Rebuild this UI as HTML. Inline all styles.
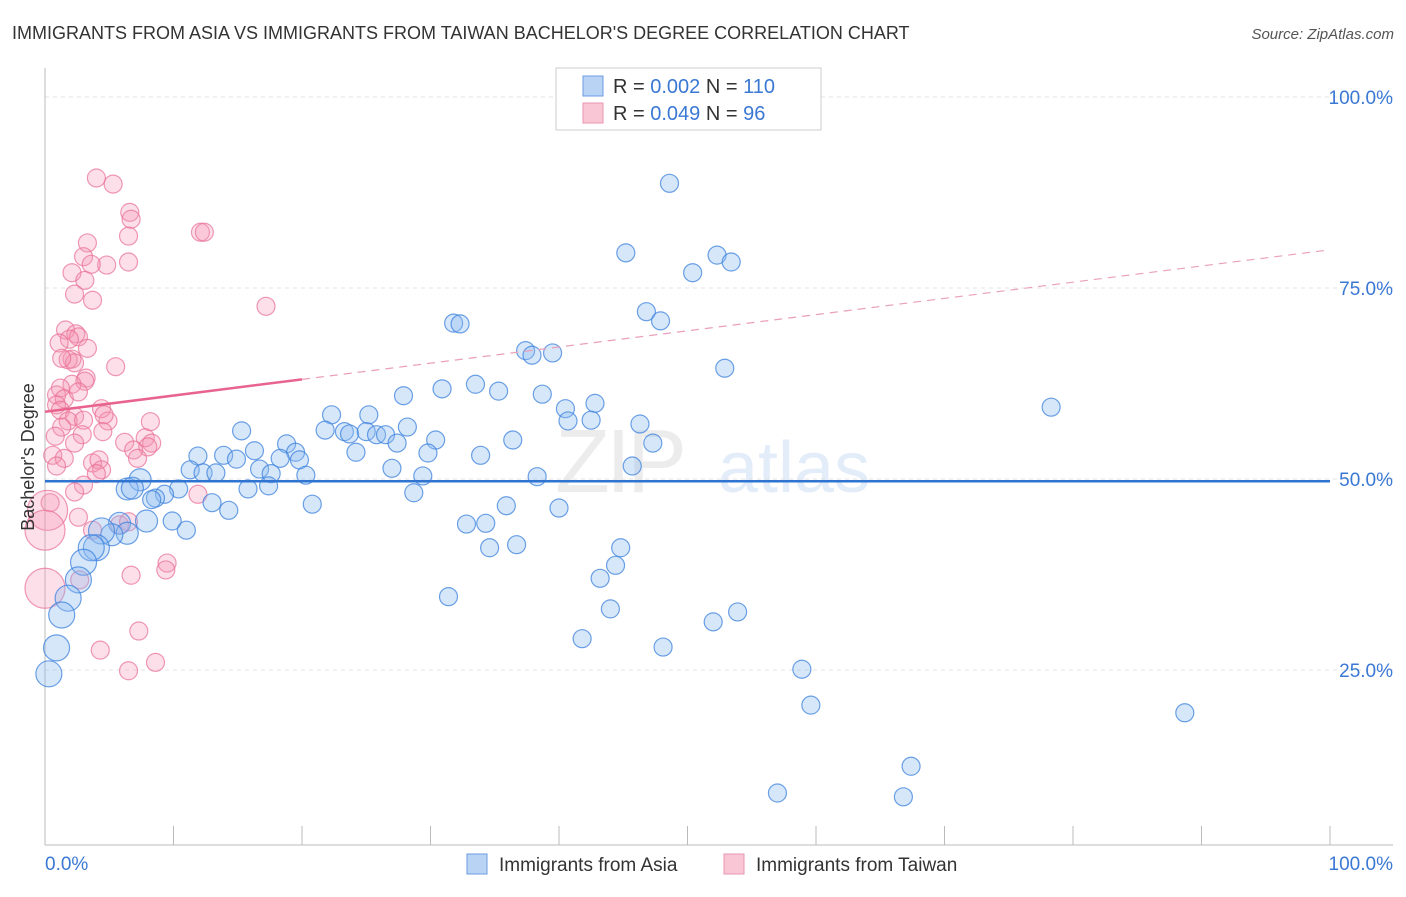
<!DOCTYPE html>
<html><head><meta charset="utf-8"><style>
body{margin:0;background:#fff;font-family:"Liberation Sans",sans-serif;}
svg text{font-family:"Liberation Sans",sans-serif;}
</style></head><body>
<svg id="chart" width="1406" height="892" viewBox="0 0 1406 892" xmlns="http://www.w3.org/2000/svg">
<text x="12" y="39" font-size="18" fill="#333">IMMIGRANTS FROM ASIA VS IMMIGRANTS FROM TAIWAN BACHELOR'S DEGREE CORRELATION CHART</text>
<text x="1394" y="39" font-size="15" fill="#555" text-anchor="end" font-style="italic">Source: ZipAtlas.com</text>
<g opacity="0.18">
<text x="555" y="492" font-size="90" fill="#999" font-family="Liberation Serif" letter-spacing="-4">ZIP</text>
<text x="718" y="492" font-size="72" fill="#6a9be0">atlas</text>
</g>
<g id="grid"></g>
<g id="axes"></g>
<g id="marks"></g>
<g id="trends"></g>
<g>
<rect x="556" y="68" width="265" height="62" fill="#fff" stroke="#ccc"/>
<rect x="583" y="76" width="20" height="20" fill="#b9d3f5" stroke="#6a9be0"/>
<rect x="583" y="103" width="20" height="20" fill="#f9c6d6" stroke="#e895b0"/>
<text x="613" y="93" font-size="20" fill="#333">R = <tspan fill="#3a78d4">0.002</tspan>   N = <tspan fill="#3a78d4">110</tspan></text>
<text x="613" y="120" font-size="20" fill="#333">R = <tspan fill="#3a78d4">0.049</tspan>   N =  <tspan fill="#3a78d4"> 96</tspan></text>
</g>
<g>
<rect x="467" y="854" width="20" height="20" fill="#b9d3f5" stroke="#6a9be0"/>
<text x="499" y="871" font-size="19" fill="#333">Immigrants from Asia</text>
<rect x="724" y="854" width="20" height="20" fill="#f9c6d6" stroke="#e895b0"/>
<text x="756" y="871" font-size="19" fill="#333">Immigrants from Taiwan</text>
</g>
<text transform="translate(34,457) rotate(-90)" font-size="18" fill="#333" text-anchor="middle">Bachelor's Degree</text>
</svg>
<script>
const yTicks=[25,50,75,100];
const yTickLabels=["25.0%","50.0%","75.0%","100.0%"];
const xTickLabels=["0.0%","100.0%"];
const asiaX=[48.6,45.2,52.3,53.4,50.4,46.8,47.9,31.8,32.3,52.9,37.4,37.9,39.5,27.9,30.9,33.5,35.3,38.7,78.3,42.8,40.5,40.7,42.5,46.3,22.3,25.2,28.2,30.4,36.4,47.3,15.3,16.3,18.8,19.5,21.8,23.3,23.7,25.0,25.8,26.5,27.4,24.2,29.8,33.9,13.9,11.9,14.9,11.3,12.3,13.3,16.7,17.6,18.3,19.8,20.3,27.0,29.4,45.7,38.3,7.4,6.4,6.8,10.4,9.3,8.6,8.3,13.0,14.3,15.8,17.4,20.8,28.7,35.9,40.0,32.8,34.3,7.9,9.9,11.0,5.8,6.4,5.2,4.4,4.0,3.6,3.0,2.6,1.8,1.3,0.9,0.3,34.6,36.7,44.8,44.4,43.2,31.4,44.0,41.8,48.1,52.0,53.9,58.9,59.6,88.7,67.4,57.0,66.8];
const asiaY=[88.7,79.6,79.3,78.4,77.0,71.9,70.7,70.4,70.3,64.5,66.8,66.2,66.5,60.9,61.8,62.4,61.5,61.1,59.4,59.9,59.2,57.6,57.7,57.2,58.4,58.4,56.8,55.1,55.1,54.7,56.3,53.7,54.6,53.5,56.4,56.2,55.9,56.2,55.8,55.8,54.7,53.5,53.4,53.1,53.1,53.0,52.6,51.2,50.8,50.8,51.3,50.7,52.7,52.5,50.5,51.4,50.4,51.7,50.3,49.9,48.7,48.8,48.7,48.0,47.5,47.3,46.9,45.9,48.7,49.1,46.7,48.2,46.5,46.2,44.1,44.2,44.5,44.5,43.3,44.2,42.9,42.7,43.2,41.0,41.0,39.1,36.8,34.4,32.2,27.9,24.5,41.0,41.4,41.0,38.7,37.0,34.6,33.0,29.1,28.0,31.3,32.6,25.1,20.4,19.4,12.4,8.9,8.4];
const taiwanX=[4.0,5.3,6.6,6.7,6.5,12.1,12.4,3.3,6.5,3.0,4.8,3.6,2.1,3.1,2.3,3.7,17.2,1.6,2.4,2.6,1.9,1.1,3.3,2.1,1.8,2.3,1.3,5.5,3.2,3.1,2.1,1.2,0.9,1.5,2.6,0.9,1.2,2.3,1.8,3.0,4.4,4.9,4.6,8.2,4.5,1.3,2.9,6.2,0.8,2.3,7.8,8.3,8.0,6.9,7.2,0.6,1.5,3.7,4.2,4.4,0.9,4.0,3.0,2.3,11.9,0.4,0.2,0.0,2.6,3.7,5.8,6.5,9.5,9.4,6.7,2.7,0.0,7.3,4.3,8.6,6.5];
const taiwanY=[89.4,88.6,84.9,84.0,81.8,82.3,82.3,80.9,78.4,79.1,78.0,78.1,77.0,76.0,74.2,73.4,72.6,69.5,69.0,68.6,68.3,67.8,67.1,65.7,65.6,65.2,65.8,64.7,63.2,62.8,62.4,61.9,61.0,60.5,61.4,59.7,59.0,58.2,57.6,57.7,59.2,57.6,58.4,57.5,56.2,56.8,55.8,54.8,55.6,54.7,55.4,54.7,54.2,53.8,52.7,53.1,52.7,52.1,52.5,51.2,51.7,50.7,49.2,48.3,48.0,46.9,45.9,43.3,45.0,43.3,44.0,44.4,39.0,38.1,37.4,36.8,35.7,30.1,27.6,26.0,24.9];
const asiaTrend=[49.7,49.7];
const taiwanTrend=[58.8,80.0];
const NS="http://www.w3.org/2000/svg";
const X0=45,X1=1330,Y0=861,PPU=7.64;
const sx=v=>X0+(X1-X0)*v/100;
const sy=v=>Y0-v*PPU;
function mk(tag,attrs,parent){const e=document.createElementNS(NS,tag);for(const k in attrs)e.setAttribute(k,attrs[k]);parent.appendChild(e);return e;}
const grid=document.getElementById('grid'),axes=document.getElementById('axes'),marks=document.getElementById('marks'),trends=document.getElementById('trends');
yTicks.forEach((t,i)=>{
 const l=mk('line',{x1:X0,x2:1393,y1:sy(t),y2:sy(t),stroke:'#e3e3e3','stroke-dasharray':'4,4'},grid);
 
 
 const tx=mk('text',{x:1393,y:sy(t)+7,'font-size':19,fill:'#3a78d4','text-anchor':'end'},axes);
 tx.textContent=yTickLabels[i];
 
 
});
const ya=mk('line',{x1:X0,x2:X0,y1:68,y2:845,stroke:'#bbb'},axes);


const xa=mk('line',{x1:X0,x2:1393,y1:845,y2:845,stroke:'#bbb'},axes);


for(let i=0;i<=10;i++){const t=mk('line',{x1:sx(i*10),x2:sx(i*10),y1:826,y2:845,stroke:'#bbb'},axes);
 
 }
[[0,'start',45],[100,'end',1393]].forEach((d,i)=>{const t=mk('text',{x:d[2],y:870,'font-size':19,fill:'#3a78d4','text-anchor':d[1]},axes);t.textContent=xTickLabels[i];
 
 });
taiwanX.forEach((x,i)=>{const r=x<0.3?20:9;
 const c=mk('circle',{cx:sx(x),cy:sy(taiwanY[i]),r:r,fill:'rgba(244,150,180,0.3)',stroke:'rgba(232,110,150,0.7)','stroke-width':1.2},marks);
 
 });
asiaX.forEach((x,i)=>{const r=x<4.5?13:x<8?11:9;
 const c=mk('circle',{cx:sx(x),cy:sy(asiaY[i]),r:r,fill:'rgba(140,185,240,0.35)',stroke:'rgba(60,130,220,0.75)','stroke-width':1.2},marks);
 
 });
const ta=mk('line',{x1:sx(0),x2:sx(100),y1:sy(asiaTrend[0]),y2:sy(asiaTrend[1]),stroke:'#2f74d0','stroke-width':2.5},trends);


const pAt=x=>taiwanTrend[0]+(taiwanTrend[1]-taiwanTrend[0])*x/100;
const tp=mk('line',{x1:sx(0),x2:sx(20),y1:sy(pAt(0)),y2:sy(pAt(20)),stroke:'#e8648f','stroke-width':2.5},trends);


const td=mk('line',{x1:sx(20),x2:sx(100),y1:sy(pAt(20)),y2:sy(pAt(100)),stroke:'#eaa0b8','stroke-width':1.2,'stroke-dasharray':'8,6'},trends);


</script>
</body></html>
